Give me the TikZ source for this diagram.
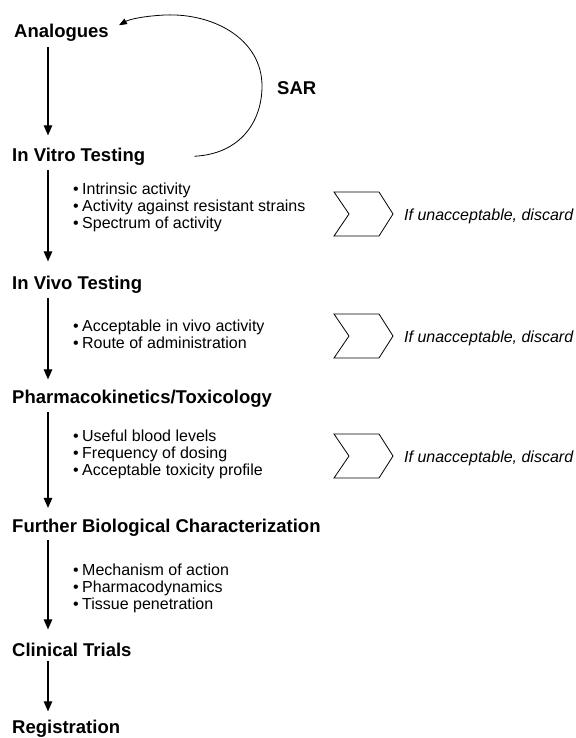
\documentclass[tikz,border=0pt]{standalone}
\usepackage{fontspec}
\setmainfont{Liberation Sans}
\usetikzlibrary{arrows.meta,calc}
\begin{document}
\begin{tikzpicture}[x=1pt,y=-1pt,
  lbl/.style={anchor=base west,inner sep=0pt,font=\fontsize{18.5}{22}\selectfont\bfseries},
  bul/.style={anchor=base west,inner sep=0pt,font=\fontsize{16}{17}\selectfont},
  disc/.style={anchor=base west,inner sep=0pt,font=\fontsize{16}{17}\selectfont\itshape},
  arr/.style={line width=1.1pt,-{Triangle[length=10pt,width=8.5pt]}},
  chev/.pic={\draw[line width=0.8pt,line join=miter] (-29.5,-22)--(15.5,-22)--(29.5,0)--(15.5,22)--(-29.5,22)--(-14.5,0)--cycle;}
]
\useasboundingbox (0,0) rectangle (575,738);
\coordinate (ax) at (48,0);
% labels
\node[lbl] (av) at (14,38) {Analogues};
\node[lbl] (ivt) at (12,161) {In Vitro Testing};
\node[lbl] (ivv) at (12,289) {In Vivo Testing};
\node[lbl] (pk) at (12,403) {Pharmacokinetics/Toxicology};
\node[lbl] (fbc) at (12,532) {Further Biological Characterization};
\node[lbl] (ct) at (12,656) {Clinical Trials};
\node[lbl] (reg) at (12,733) {Registration};
\node[lbl] (sar) at (277,95) {SAR};
% arrows
\draw[arr,shorten <=5pt,shorten >=12pt] (av.south -| ax) -- (ivt.north -| ax);
\draw[arr,shorten <=5pt,shorten >=14pt] (ivt.south -| ax) -- (ivv.north -| ax);
\draw[arr,shorten <=5pt,shorten >=10pt] (ivv.south -| ax) -- (pk.north -| ax);
\draw[arr,shorten <=5pt,shorten >=10.5pt] (pk.south -| ax) -- (fbc.north -| ax);
\draw[arr,shorten <=4pt,shorten >=13pt] (fbc.south -| ax) -- (ct.north -| ax);
\draw[arr,shorten <=5pt,shorten >=8pt] (ct.south -| ax) -- (reg.north -| ax);
% SAR loop
\coordinate (s0) at ($(ivt.east)+(49,0)$);
\coordinate (s1) at ($(av.east)+(10,-8)$);
\draw[line width=0.8pt,-{Triangle[length=8pt,width=6pt]}] (s0) .. controls (240,154) and (262,122) .. (262,86) .. controls (262,40) and (215,13) .. (165,15) .. controls (145,16) and (130,19) .. (s1);
% bullets
\newcommand{\bl}[1]{\makebox[9pt][l]{\textbullet}#1}
\node[bul] (b11) at (73,194) {\bl{Intrinsic activity}};
\node[bul] (b12) at (73,211) {\bl{Activity against resistant strains}};
\node[bul] (b13) at (73,228) {\bl{Spectrum of activity}};
\node[bul] (b21) at (73,331) {\bl{Acceptable in vivo activity}};
\node[bul] (b22) at (73,348) {\bl{Route of administration}};
\node[bul] (b31) at (73,441) {\bl{Useful blood levels}};
\node[bul] (b32) at (73,458) {\bl{Frequency of dosing}};
\node[bul] (b33) at (73,475) {\bl{Acceptable toxicity profile}};
\node[bul] (b41) at (73,575) {\bl{Mechanism of action}};
\node[bul] (b42) at (73,592) {\bl{Pharmacodynamics}};
\node[bul] (b43) at (73,609) {\bl{Tissue penetration}};
% chevrons and discard notes
\pic at (363.5,214) {chev};
\pic at (363.5,336) {chev};
\pic at (363.5,456) {chev};
\node[disc] (d1) at (404,220) {If unacceptable, discard};
\node[disc] (d2) at (404,342) {If unacceptable, discard};
\node[disc] (d3) at (404,462) {If unacceptable, discard};
\end{tikzpicture}
\end{document}
